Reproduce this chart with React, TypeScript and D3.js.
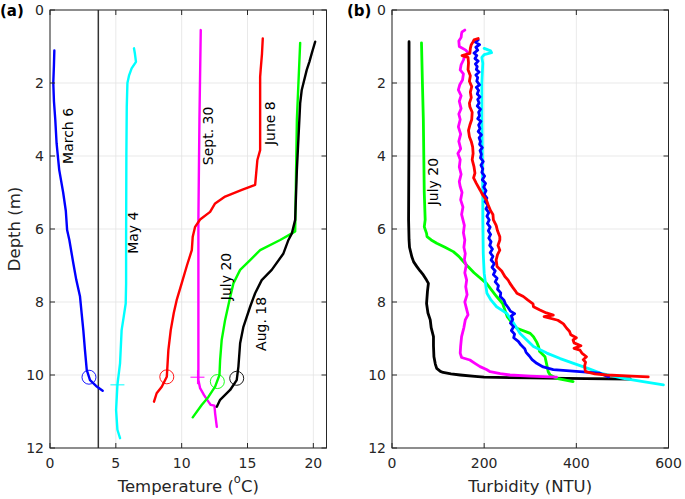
import React from "react";
import * as d3 from "d3";

// ---------- Data (depth m, value) ----------
const tempMarch6: [number, number][] = [[1.11,0.33],[1.5,0.3],[2.0,0.25],[2.5,0.3],[3.0,0.4],[3.65,0.5],[4.38,0.7],[5.0,1.0],[5.5,1.2],[6.03,1.3],[6.3,1.47],[6.94,1.77],[7.4,2.0],[7.85,2.28],[8.3,2.4],[8.77,2.53],[9.3,2.65],[9.86,2.79],[10.14,3.04],[10.3,3.5],[10.43,4.0]];
const tempMay4: [number, number][] = [[1.05,6.38],[1.2,6.45],[1.42,6.53],[1.6,6.2],[1.8,6.0],[2.0,5.88],[2.65,5.83],[4,5.8],[6.3,5.78],[7.5,5.78],[8.04,5.75],[8.4,5.6],[8.77,5.44],[9.68,5.32],[10.27,5.12],[10.96,5.02],[11.5,5.12],[11.73,5.32]];
const tempJune8: [number, number][] = [[0.78,16.16],[1.2,16.1],[1.64,16.0],[1.83,15.96],[3.84,15.96],[4.11,15.75],[4.79,15.58],[4.93,14.57],[5.11,13.3],[5.3,12.54],[5.53,12.16],[5.74,11.4],[5.94,11.02],[6.21,10.84],[6.58,10.77],[7.0,10.4],[7.49,10.0],[7.95,9.62],[8.3,9.4],[8.77,9.17],[9.32,8.99],[10.05,8.87],[10.32,8.49],[10.5,8.1],[10.73,7.9]];
const tempSept30: [number, number][] = [[0.55,11.45],[3.0,11.35],[5.75,11.27],[10.14,11.27],[10.36,11.4],[10.55,11.7],[10.73,12.03],[10.82,12.21],[10.84,12.49],[11.05,12.54],[11.42,12.67]];
const tempJuly20: [number, number][] = [[0.9,19.0],[3.0,18.75],[6.07,18.62],[6.12,18.37],[6.3,17.48],[6.58,15.96],[6.85,15.2],[7.12,14.44],[7.49,13.93],[7.95,13.63],[8.49,13.3],[9.04,13.04],[9.59,12.92],[10.0,12.87],[10.32,12.54],[10.6,12.03],[10.82,11.52],[11.16,10.84]];
const tempAug18: [number, number][] = [[0.87,20.14],[1.19,19.88],[1.42,19.7],[1.64,19.5],[2.19,19.12],[2.56,19.0],[4.38,18.75],[5.75,18.62],[6.12,18.37],[6.3,18.11],[6.67,17.73],[7.12,16.84],[7.4,16.08],[7.76,15.58],[8.13,15.2],[8.68,14.69],[9.13,14.44],[9.77,14.31],[10.14,14.18],[10.41,13.68],[10.68,12.92],[10.87,12.67]];

const turbMarch6: [number, number][] = [[0.82,187],[0.88,181],[0.95,190],[1.02,182],[1.1,186],[1.18,178],[1.25,184],[1.33,180],[1.4,187],[1.48,181],[1.55,185],[1.63,183],[1.7,189],[1.78,182],[1.85,186],[1.95,184],[2.05,190],[2.12,183],[2.2,188],[2.3,185],[2.38,191],[2.45,186],[2.55,189],[2.63,185],[2.72,192],[2.8,188],[2.9,190],[2.98,186],[3.05,193],[3.15,188],[3.25,191],[3.33,187],[3.42,194],[3.5,189],[3.6,192],[3.68,190],[3.77,196],[3.85,191],[3.95,194],[4.05,192],[4.15,198],[4.25,193],[4.35,197],[4.45,195],[4.55,201],[4.65,196],[4.75,203],[4.85,199],[4.95,204],[5.05,200],[5.15,206],[5.25,202],[5.35,208],[5.45,204],[5.55,210],[5.65,206],[5.75,211],[5.85,207],[5.95,213],[6.05,209],[6.15,214],[6.25,210],[6.35,215],[6.45,212],[6.55,218],[6.65,213],[6.75,219],[6.85,215],[6.95,222],[7.05,217],[7.15,224],[7.25,220],[7.35,228],[7.45,224],[7.55,231],[7.65,229],[7.75,236],[7.85,235],[7.95,243],[8.05,246],[8.15,252],[8.25,257],[8.32,266],[8.38,259],[8.48,262],[8.58,257],[8.68,264],[8.78,259],[8.88,266],[8.98,264],[9.08,274],[9.18,280],[9.28,288],[9.38,291],[9.48,298],[9.58,304],[9.68,314],[9.78,328],[9.85,350],[9.9,400],[9.95,450],[10.0,460],[10.05,470]];
const turbMay4: [number, number][] = [[1.05,200],[1.12,214],[1.17,216],[1.22,200],[1.3,195],[1.46,197],[2.0,195],[3.0,195],[4.0,196],[5.0,197],[5.75,197],[6.67,198],[7.21,200],[7.5,203],[7.76,206],[7.95,215],[8.13,227],[8.31,249],[8.6,265],[8.86,278],[9.22,307],[9.4,336],[9.55,365],[9.68,394],[9.82,425],[9.95,452],[10.09,502],[10.18,545],[10.27,589]];
const turbJune8: [number, number][] = [[0.78,187],[0.82,178],[0.87,176],[0.95,172],[1.05,170],[1.19,169],[1.25,152],[1.3,165],[1.45,166],[1.64,165],[1.8,170],[1.95,168],[2.1,173],[2.25,170],[2.4,172],[2.55,168],[2.65,169],[2.8,174],[3.0,173],[3.15,169],[3.3,166],[3.47,168],[3.6,172],[3.75,175],[3.93,176],[4.1,174],[4.3,178],[4.47,180],[4.6,177],[4.75,183],[4.93,191],[5.05,196],[5.21,205],[5.35,209],[5.5,214],[5.6,219],[5.75,220],[5.9,226],[6.05,229],[6.21,234],[6.3,234],[6.45,230],[6.58,234],[6.7,229],[6.85,226],[6.94,227],[7.03,228],[7.15,238],[7.3,245],[7.4,252],[7.49,256],[7.6,262],[7.7,268],[7.76,271],[7.85,285],[7.95,295],[8.05,306],[8.13,307],[8.22,321],[8.3,335],[8.36,350],[8.4,330],[8.5,360],[8.6,372],[8.72,379],[8.8,385],[8.9,388],[8.98,400],[9.04,393],[9.12,395],[9.2,410],[9.27,395],[9.32,408],[9.4,412],[9.5,422],[9.58,415],[9.65,420],[9.75,418],[9.85,419],[9.91,420],[9.97,440],[10.0,466],[10.03,520],[10.05,556]];
const turbJuly20: [number, number][] = [[0.9,64],[2.0,66],[3.0,68],[4.0,69],[5.0,70],[5.75,72],[5.94,70],[6.12,75],[6.21,76],[6.3,85],[6.39,97],[6.5,115],[6.62,133],[6.75,145],[6.85,152],[7.03,165],[7.2,178],[7.49,205],[7.85,227],[8.04,240],[8.4,250],[8.6,262],[8.72,271],[8.86,300],[8.95,307],[9.1,314],[9.22,318],[9.35,320],[9.5,332],[9.73,336],[9.91,339],[10.0,343],[10.09,357],[10.18,393]];
const turbAug18: [number, number][] = [[0.87,37],[3.0,37],[5.75,36],[6.3,37],[6.5,38],[6.76,43],[6.9,47],[7.03,54],[7.15,61],[7.26,68],[7.4,75],[7.49,79],[7.7,77],[8.04,75],[8.3,78],[8.49,83],[8.7,85],[8.95,90],[9.2,90],[9.5,91],[9.7,94],[9.82,97],[9.9,105],[9.93,111],[9.97,128],[10.0,148],[10.04,180],[10.06,200],[10.08,300],[10.1,420],[10.11,517]];
const turbSept30: [number, number][] = [[0.55,158],[0.6,152],[0.64,151],[0.75,150],[0.85,145],[1.0,146],[1.1,160],[1.19,166],[1.25,158],[1.37,155],[1.5,150],[1.64,148],[1.75,155],[1.92,153],[2.05,147],[2.19,144],[2.35,150],[2.5,146],[2.7,150],[2.85,145],[3.0,148],[3.2,144],[3.4,149],[3.6,145],[3.8,149],[3.93,143],[4.1,148],[4.3,146],[4.5,150],[4.7,146],[4.84,148],[5.0,152],[5.2,149],[5.4,154],[5.6,151],[5.75,154],[5.9,157],[6.1,155],[6.3,158],[6.5,156],[6.67,159],[6.85,157],[7.0,161],[7.2,158],[7.4,162],[7.58,160],[7.8,163],[8.0,158],[8.2,162],[8.35,165],[8.49,159],[8.7,156],[8.95,151],[9.2,149],[9.4,148],[9.52,151],[9.59,169],[9.68,180],[9.77,191],[9.85,205],[9.91,213],[9.96,235],[10.0,256],[10.03,300],[10.06,357]];

const circleMarkers: { d: number; v: number; c: string }[] = [
  { d: 10.06, v: 2.96, c: "#0000ff" },
  { d: 10.05, v: 8.87, c: "#ff0000" },
  { d: 10.18, v: 12.71, c: "#00ff00" },
  { d: 10.09, v: 14.18, c: "#000000" },
];
const plusMarkers: { d: number; v: number; c: string }[] = [
  { d: 10.27, v: 5.12, c: "#00ffff" },
  { d: 10.06, v: 11.2, c: "#ff00ff" },
];
const refTemp = 3.67;

const tempLabels = [
  { text: "March 6", v: 1.4, d: 3.45 },
  { text: "May 4", v: 6.3, d: 6.1 },
  { text: "Sept. 30", v: 12.0, d: 3.45 },
  { text: "June 8", v: 16.7, d: 3.1 },
  { text: "July 20", v: 13.4, d: 7.3 },
  { text: "Aug. 18", v: 16.0, d: 8.6 },
];
const turbLabels = [{ text: "July 20", v: 90, d: 4.7 }];

const xTicksTemp = [0, 5, 10, 15, 20];
const xTicksTurb = [0, 200, 400, 600];
const yTicks = [0, 2, 4, 6, 8, 10, 12];

const tempSeries = [
  { data: tempMarch6, c: "#0000ff" },
  { data: tempMay4, c: "#00ffff" },
  { data: tempSept30, c: "#ff00ff" },
  { data: tempJune8, c: "#ff0000" },
  { data: tempJuly20, c: "#00ff00" },
  { data: tempAug18, c: "#000000" },
];
const turbSeries = [
  { data: turbAug18, c: "#000000" },
  { data: turbJuly20, c: "#00ff00" },
  { data: turbSept30, c: "#ff00ff" },
  { data: turbMay4, c: "#00ffff" },
  { data: turbMarch6, c: "#0000ff" },
  { data: turbJune8, c: "#ff0000" },
];

const FONT = "DejaVu Sans, sans-serif";
const AX = "#262626";

function Panel(props: {
  x0: number; x1: number; xDomain: [number, number]; xTicks: number[];
  series: { data: [number, number][]; c: string }[];
  labels: { text: string; v: number; d: number }[];
  xLabel: React.ReactNode; panelLabel: string; panelLabelX: number;
  extra?: (x: d3.ScaleLinear<number, number>, y: d3.ScaleLinear<number, number>) => React.ReactNode;
  lw: number;
}) {
  const top = 10, bottom = 448;
  const x = d3.scaleLinear().domain(props.xDomain).range([props.x0, props.x1]);
  const y = d3.scaleLinear().domain([0, 12]).range([top, bottom]);
  const line = d3.line<[number, number]>().x((p) => x(p[1])).y((p) => y(p[0]));
  const tl = 5;
  return (
    <g>
      {props.xTicks.map((t) => (
        <line key={"gx" + t} x1={x(t)} x2={x(t)} y1={top} y2={bottom} stroke="#e3e3e3" strokeWidth={0.8} />
      ))}
      {yTicks.map((t) => (
        <line key={"gy" + t} x1={props.x0} x2={props.x1} y1={y(t)} y2={y(t)} stroke="#e3e3e3" strokeWidth={0.8} />
      ))}
      {props.extra ? props.extra(x, y) : null}
      {props.series.map((s, i) => (
        <path key={i} d={line(s.data) || ""} fill="none" stroke={s.c} strokeWidth={props.lw} strokeLinejoin="round" strokeLinecap="round" />
      ))}
      {props.labels.map((l, i) => (
        <text key={i} transform={`translate(${x(l.v)},${y(l.d)}) rotate(-90)`} textAnchor="middle" dominantBaseline="central" fontSize={14} fontFamily={FONT} fill="#000">{l.text}</text>
      ))}
      <rect x={props.x0} y={top} width={props.x1 - props.x0} height={bottom - top} fill="none" stroke={AX} strokeWidth={1} />
      {props.xTicks.map((t) => (
        <g key={"tx" + t}>
          <line x1={x(t)} x2={x(t)} y1={bottom} y2={bottom - tl} stroke={AX} />
          <line x1={x(t)} x2={x(t)} y1={top} y2={top + tl} stroke={AX} />
          <text x={x(t)} y={463} textAnchor="middle" dominantBaseline="central" fontSize={14} fontFamily={FONT} fill={AX}>{t}</text>
        </g>
      ))}
      {yTicks.map((t) => (
        <g key={"ty" + t}>
          <line x1={props.x0} x2={props.x0 + tl} y1={y(t)} y2={y(t)} stroke={AX} />
          <line x1={props.x1} x2={props.x1 - tl} y1={y(t)} y2={y(t)} stroke={AX} />
          <text x={props.x0 - 6} y={y(t)} textAnchor="end" dominantBaseline="central" fontSize={14} fontFamily={FONT} fill={AX}>{t}</text>
        </g>
      ))}
      <text x={(props.x0 + props.x1) / 2} y={486} textAnchor="middle" dominantBaseline="central" fontSize={16.5} fontFamily={FONT} fill={AX}>{props.xLabel}</text>
      <text x={props.panelLabelX} y={11} dominantBaseline="central" fontSize={15} fontWeight="bold" fontFamily={FONT} fill="#000">{props.panelLabel}</text>
    </g>
  );
}

export default function App() {
  return (
    <svg width={685} height={499} style={{ position: "absolute", left: 0, top: 0, background: "#fff" }}>
      <rect width={685} height={499} fill="#fff" />
      <Panel
        x0={50} x1={326.5} xDomain={[0, 21]} xTicks={xTicksTemp}
        series={tempSeries} labels={tempLabels} lw={2.4}
        xLabel={<>Temperature (<tspan dy={-7} fontSize={11.5}>o</tspan><tspan dy={7}>C)</tspan></>}
        panelLabel="(a)" panelLabelX={0}
        extra={(x) => (
          <g>
            <line x1={x(refTemp)} x2={x(refTemp)} y1={10} y2={448} stroke="#333" strokeWidth={1.5} />
          </g>
        )}
      />
      <Panel
        x0={392} x1={668.5} xDomain={[0, 600]} xTicks={xTicksTurb}
        series={turbSeries} labels={turbLabels} lw={2.8}
        xLabel="Turbidity (NTU)"
        panelLabel="(b)" panelLabelX={347}
      />
      {(() => {
        const x = d3.scaleLinear().domain([0, 21]).range([50, 326.5]);
        const y = d3.scaleLinear().domain([0, 12]).range([10, 448]);
        return (
          <g>
            {circleMarkers.map((m, i) => (
              <circle key={i} cx={x(m.v)} cy={y(m.d)} r={7} fill="none" stroke={m.c} strokeWidth={0.9} />
            ))}
            {plusMarkers.map((m, i) => (
              <g key={i} stroke={m.c} strokeWidth={1}>
                <line x1={x(m.v) - 7} x2={x(m.v) + 7} y1={y(m.d)} y2={y(m.d)} />
                <line x1={x(m.v)} x2={x(m.v)} y1={y(m.d) - 7} y2={y(m.d) + 7} />
              </g>
            ))}
          </g>
        );
      })()}
      <text transform="translate(14,229) rotate(-90)" textAnchor="middle" dominantBaseline="central" fontSize={16.5} fontFamily={FONT} fill={AX}>Depth (m)</text>
    </svg>
  );
}
